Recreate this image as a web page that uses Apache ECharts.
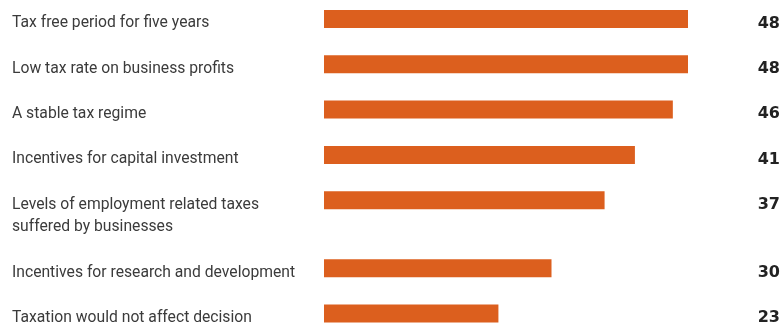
<!DOCTYPE html>
<html lang="en">
<head>
    <meta charset="UTF-8">
    <title>Tax factors</title>
    <script src="https://cdn.jsdelivr.net/npm/echarts@6.0.0/dist/echarts.min.js"></script>
    <style>
        html, body { margin: 0; padding: 0; background: #fff; }
    </style>
</head>
<body>
<div id="chart" style="width: 784px; height:326px;"></div>
<script>
    var categories = [
        'Tax free period for five years',
        'Low tax rate on business profits',
        'A stable tax regime',
        'Incentives for capital investment',
        'Levels of employment related taxes\nsuffered by businesses',
        'Incentives for research and development',
        'Taxation would not affect decision'
    ];
    var values = [48, 48, 46, 41, 37, 30, 23];

    // one slot per text line, plus a spacer slot between categories
    var slotLabels = [];
    var slotValues = [];
    var slotBars = [];
    categories.forEach(function (name, i) {
        var lines = name.split('\n');
        lines.forEach(function (line, j) {
            slotLabels.push(line);
            slotValues.push(j === 0 ? String(values[i]) : '');
            slotBars.push(j === 0 ? values[i] : null);
        });
        if (i < categories.length - 1) {
            slotLabels.push('');
            slotValues.push('');
            slotBars.push(null);
        }
    });

    var chart = echarts.init(document.getElementById('chart'));
    var option = {
        animation: false,
        grid: { left: 324, right: 96, top: 19, bottom: 11, containLabel: false },
        xAxis: {
            type: 'value',
            min: 0,
            max: 48,
            show: false
        },
        yAxis: [
            {
                type: 'category',
                inverse: true,
                boundaryGap: false,
                data: slotLabels,
                axisLine: { show: false },
                axisTick: { show: false },
                splitLine: { show: false },
                axisLabel: {
                    interval: 0,
                    align: 'left',
                    verticalAlign: 'top',
                    lineHeight: 9,
                    margin: 312,
                    color: '#3b3b3b',
                    fontSize: 15.7,
                    fontFamily: 'Roboto'
                }
            },
            {
                type: 'category',
                inverse: true,
                position: 'right',
                boundaryGap: false,
                data: slotValues,
                axisLine: { show: false },
                axisTick: { show: false },
                splitLine: { show: false },
                axisLabel: {
                    interval: 0,
                    align: 'right',
                    verticalAlign: 'top',
                    lineHeight: 9,
                    margin: 92,
                    color: '#222',
                    fontSize: 16,
                    fontWeight: 'bold',
                    fontFamily: 'DejaVu Sans'
                }
            }
        ],
        series: [
            {
                type: 'bar',
                data: slotBars,
                barWidth: 18,
                clip: false,
                itemStyle: { color: '#dc5f1e' }
            }
        ]
    };
    chart.setOption(option);
</script>
</body>
</html>
